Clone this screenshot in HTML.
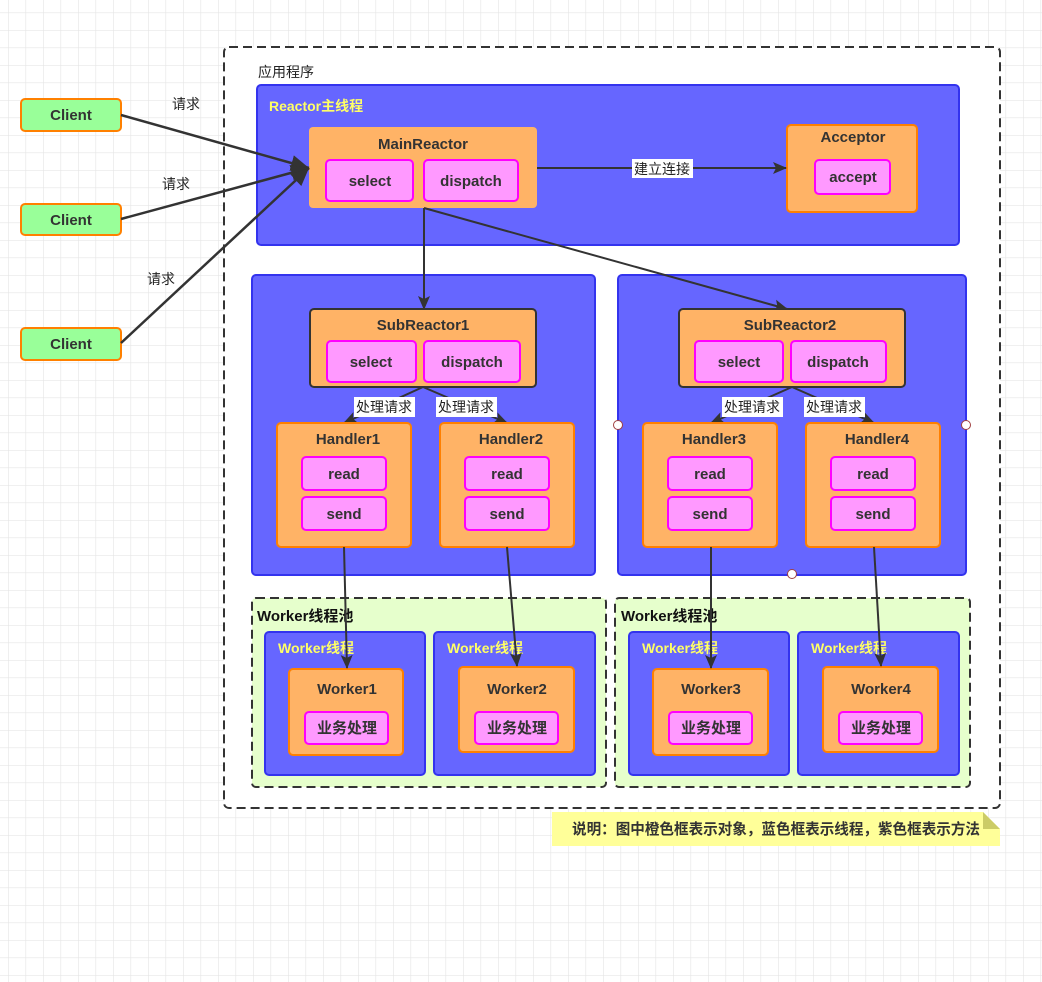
<!DOCTYPE html>
<html><head><meta charset="utf-8">
<style>
html,body{margin:0;padding:0;background:#fff;}
svg{display:block;}
text{font-family:"Liberation Sans","Noto Sans CJK SC",sans-serif;}
.b{font-weight:bold;font-size:15px;fill:#333;}
.c{font-size:14px;fill:#222;}
.y{font-weight:bold;font-size:14px;fill:#ffff66;}
</style></head><body>
<svg width="1042" height="982" viewBox="0 0 1042 982" xmlns="http://www.w3.org/2000/svg">
<defs>
<pattern id="g" width="17.5" height="17.5" patternUnits="userSpaceOnUse" x="8" y="-5">
<path d="M0 0H17.5M0 0V17.5" stroke="#e6e6e6" stroke-width="1.3" fill="none"/>
</pattern>
<marker id="a" markerWidth="14" markerHeight="14" refX="13" refY="7" orient="auto" markerUnits="userSpaceOnUse"><path d="M0 1L14 7L0 13L3 7Z" fill="#333"/></marker>
<marker id="A" markerWidth="20" markerHeight="20" refX="18" refY="10" orient="auto" markerUnits="userSpaceOnUse"><path d="M0 2L18 10L0 18Z" fill="#333"/></marker>
</defs>
<rect width="1042" height="982" fill="url(#g)"/>
<rect x="224" y="47" width="776" height="761" rx="5" fill="#fff" stroke="#333" stroke-width="2" stroke-dasharray="9,5"/>
<text x="258" y="77" class="c">应用程序</text>

<rect x="257" y="85" width="702" height="160" rx="4" fill="#6666ff" stroke="#3333ee" stroke-width="2"/>
<text x="269" y="111" class="y">Reactor主线程</text>
<rect x="309" y="127" width="228" height="81" rx="4" fill="#ffb366"/>
<text x="423" y="149" class="b" text-anchor="middle">MainReactor</text>
<rect x="326" y="160" width="87" height="41" rx="4" fill="#ff99ff" stroke="#ff00ff" stroke-width="2"/>
<text x="370" y="186" class="b" text-anchor="middle">select</text>
<rect x="424" y="160" width="94" height="41" rx="4" fill="#ff99ff" stroke="#ff00ff" stroke-width="2"/>
<text x="471" y="186" class="b" text-anchor="middle">dispatch</text>

<rect x="787" y="125" width="130" height="87" rx="4" fill="#ffb366" stroke="#ff8000" stroke-width="2"/>
<text x="853" y="142" class="b" text-anchor="middle">Acceptor</text>
<rect x="815" y="160" width="75" height="34" rx="4" fill="#ff99ff" stroke="#ff00ff" stroke-width="2"/>
<text x="853" y="182" class="b" text-anchor="middle">accept</text>

<line x1="537" y1="168" x2="786" y2="168" stroke="#333" stroke-width="2" marker-end="url(#a)"/>
<rect x="632" y="159" width="61" height="19" fill="#fff"/>
<text x="662" y="174" class="c" text-anchor="middle">建立连接</text>

<rect x="21" y="99" width="100" height="32" rx="4" fill="#99ff99" stroke="#ff8000" stroke-width="2"/>
<text x="71" y="120" class="b" text-anchor="middle">Client</text>
<rect x="21" y="204" width="100" height="31" rx="4" fill="#99ff99" stroke="#ff8000" stroke-width="2"/>
<text x="71" y="225" class="b" text-anchor="middle">Client</text>
<rect x="21" y="328" width="100" height="32" rx="4" fill="#99ff99" stroke="#ff8000" stroke-width="2"/>
<text x="71" y="349" class="b" text-anchor="middle">Client</text>
<line x1="121" y1="115" x2="309" y2="168" stroke="#333" stroke-width="2.5" marker-end="url(#A)"/>
<line x1="121" y1="219" x2="309" y2="168" stroke="#333" stroke-width="2.5" marker-end="url(#A)"/>
<line x1="121" y1="343" x2="309" y2="168" stroke="#333" stroke-width="2.5" marker-end="url(#A)"/>
<text x="186" y="109" class="c" text-anchor="middle">请求</text>
<text x="176" y="189" class="c" text-anchor="middle">请求</text>
<text x="161" y="284" class="c" text-anchor="middle">请求</text>

<rect x="252" y="275" width="343" height="300" rx="4" fill="#6666ff" stroke="#3333ee" stroke-width="2"/>
<rect x="618" y="275" width="348" height="300" rx="4" fill="#6666ff" stroke="#3333ee" stroke-width="2"/>

<line x1="424" y1="208" x2="424" y2="309" stroke="#333" stroke-width="2" marker-end="url(#a)"/>
<line x1="424" y1="208" x2="787" y2="309" stroke="#333" stroke-width="2" marker-end="url(#a)"/>

<rect x="310" y="309" width="226" height="78" rx="4" fill="#ffb366" stroke="#333" stroke-width="2"/>
<text x="423" y="330" class="b" text-anchor="middle">SubReactor1</text>
<rect x="327" y="341" width="89" height="41" rx="4" fill="#ff99ff" stroke="#ff00ff" stroke-width="2"/>
<text x="371" y="367" class="b" text-anchor="middle">select</text>
<rect x="424" y="341" width="96" height="41" rx="4" fill="#ff99ff" stroke="#ff00ff" stroke-width="2"/>
<text x="472" y="367" class="b" text-anchor="middle">dispatch</text>
<rect x="679" y="309" width="226" height="78" rx="4" fill="#ffb366" stroke="#333" stroke-width="2"/>
<text x="790" y="330" class="b" text-anchor="middle">SubReactor2</text>
<rect x="695" y="341" width="88" height="41" rx="4" fill="#ff99ff" stroke="#ff00ff" stroke-width="2"/>
<text x="739" y="367" class="b" text-anchor="middle">select</text>
<rect x="791" y="341" width="95" height="41" rx="4" fill="#ff99ff" stroke="#ff00ff" stroke-width="2"/>
<text x="838" y="367" class="b" text-anchor="middle">dispatch</text>

<g stroke="#333" stroke-width="2">
<line x1="423" y1="387" x2="344" y2="423" marker-end="url(#a)"/>
<line x1="423" y1="387" x2="507" y2="423" marker-end="url(#a)"/>
<line x1="792" y1="387" x2="711" y2="423" marker-end="url(#a)"/>
<line x1="792" y1="387" x2="874" y2="423" marker-end="url(#a)"/>
</g>
<rect x="354" y="397" width="61" height="20" fill="#fff"/><text x="384" y="412" class="c" text-anchor="middle">处理请求</text>
<rect x="436" y="397" width="61" height="20" fill="#fff"/><text x="466" y="412" class="c" text-anchor="middle">处理请求</text>
<rect x="722" y="397" width="61" height="20" fill="#fff"/><text x="752" y="412" class="c" text-anchor="middle">处理请求</text>
<rect x="804" y="397" width="61" height="20" fill="#fff"/><text x="834" y="412" class="c" text-anchor="middle">处理请求</text>

<rect x="277" y="423" width="134" height="124" rx="4" fill="#ffb366" stroke="#ff8000" stroke-width="2"/>
<text x="348" y="444" class="b" text-anchor="middle">Handler1</text>
<rect x="302" y="457" width="84" height="33" rx="4" fill="#ff99ff" stroke="#ff00ff" stroke-width="2"/><text x="344" y="479" class="b" text-anchor="middle">read</text>
<rect x="302" y="497" width="84" height="33" rx="4" fill="#ff99ff" stroke="#ff00ff" stroke-width="2"/><text x="344" y="519" class="b" text-anchor="middle">send</text>

<rect x="440" y="423" width="134" height="124" rx="4" fill="#ffb366" stroke="#ff8000" stroke-width="2"/>
<text x="511" y="444" class="b" text-anchor="middle">Handler2</text>
<rect x="465" y="457" width="84" height="33" rx="4" fill="#ff99ff" stroke="#ff00ff" stroke-width="2"/><text x="507" y="479" class="b" text-anchor="middle">read</text>
<rect x="465" y="497" width="84" height="33" rx="4" fill="#ff99ff" stroke="#ff00ff" stroke-width="2"/><text x="507" y="519" class="b" text-anchor="middle">send</text>

<rect x="643" y="423" width="134" height="124" rx="4" fill="#ffb366" stroke="#ff8000" stroke-width="2"/>
<text x="714" y="444" class="b" text-anchor="middle">Handler3</text>
<rect x="668" y="457" width="84" height="33" rx="4" fill="#ff99ff" stroke="#ff00ff" stroke-width="2"/><text x="710" y="479" class="b" text-anchor="middle">read</text>
<rect x="668" y="497" width="84" height="33" rx="4" fill="#ff99ff" stroke="#ff00ff" stroke-width="2"/><text x="710" y="519" class="b" text-anchor="middle">send</text>

<rect x="806" y="423" width="134" height="124" rx="4" fill="#ffb366" stroke="#ff8000" stroke-width="2"/>
<text x="877" y="444" class="b" text-anchor="middle">Handler4</text>
<rect x="831" y="457" width="84" height="33" rx="4" fill="#ff99ff" stroke="#ff00ff" stroke-width="2"/><text x="873" y="479" class="b" text-anchor="middle">read</text>
<rect x="831" y="497" width="84" height="33" rx="4" fill="#ff99ff" stroke="#ff00ff" stroke-width="2"/><text x="873" y="519" class="b" text-anchor="middle">send</text>

<circle cx="618" cy="425" r="4.5" fill="#fff" stroke="#a04040"/>
<circle cx="966" cy="425" r="4.5" fill="#fff" stroke="#a04040"/>
<circle cx="792" cy="574" r="4.5" fill="#fff" stroke="#a04040"/>

<rect x="252" y="598" width="354" height="189" rx="4" fill="#e6ffcc" stroke="#333" stroke-width="2" stroke-dasharray="9,5"/>
<text x="257" y="621" class="b" style="fill:#111">Worker线程池</text>
<rect x="615" y="598" width="355" height="189" rx="4" fill="#e6ffcc" stroke="#333" stroke-width="2" stroke-dasharray="9,5"/>
<text x="621" y="621" class="b" style="fill:#111">Worker线程池</text>

<rect x="265" y="632" width="160" height="143" rx="4" fill="#6666ff" stroke="#3333ee" stroke-width="2"/>
<text x="278" y="653" class="y">Worker线程</text>
<rect x="289" y="669" width="114" height="86" rx="4" fill="#ffb366" stroke="#ff8000" stroke-width="2"/>
<text x="347" y="694" class="b" text-anchor="middle">Worker1</text>
<rect x="305" y="712" width="83" height="32" rx="4" fill="#ff99ff" stroke="#ff00ff" stroke-width="2"/><text x="347" y="733" class="b" text-anchor="middle">业务处理</text>

<rect x="434" y="632" width="161" height="143" rx="4" fill="#6666ff" stroke="#3333ee" stroke-width="2"/>
<text x="447" y="653" class="y">Worker线程</text>
<rect x="459" y="667" width="115" height="85" rx="4" fill="#ffb366" stroke="#ff8000" stroke-width="2"/>
<text x="517" y="694" class="b" text-anchor="middle">Worker2</text>
<rect x="475" y="712" width="83" height="32" rx="4" fill="#ff99ff" stroke="#ff00ff" stroke-width="2"/><text x="517" y="733" class="b" text-anchor="middle">业务处理</text>

<rect x="629" y="632" width="160" height="143" rx="4" fill="#6666ff" stroke="#3333ee" stroke-width="2"/>
<text x="642" y="653" class="y">Worker线程</text>
<rect x="653" y="669" width="115" height="86" rx="4" fill="#ffb366" stroke="#ff8000" stroke-width="2"/>
<text x="711" y="694" class="b" text-anchor="middle">Worker3</text>
<rect x="669" y="712" width="83" height="32" rx="4" fill="#ff99ff" stroke="#ff00ff" stroke-width="2"/><text x="711" y="733" class="b" text-anchor="middle">业务处理</text>

<rect x="798" y="632" width="161" height="143" rx="4" fill="#6666ff" stroke="#3333ee" stroke-width="2"/>
<text x="811" y="653" class="y">Worker线程</text>
<rect x="823" y="667" width="115" height="85" rx="4" fill="#ffb366" stroke="#ff8000" stroke-width="2"/>
<text x="881" y="694" class="b" text-anchor="middle">Worker4</text>
<rect x="839" y="712" width="83" height="32" rx="4" fill="#ff99ff" stroke="#ff00ff" stroke-width="2"/><text x="881" y="733" class="b" text-anchor="middle">业务处理</text>

<g stroke="#333" stroke-width="2">
<line x1="344" y1="547" x2="347" y2="668" marker-end="url(#a)"/>
<line x1="507" y1="547" x2="517" y2="666" marker-end="url(#a)"/>
<line x1="711" y1="547" x2="711" y2="668" marker-end="url(#a)"/>
<line x1="874" y1="547" x2="881" y2="666" marker-end="url(#a)"/>
</g>

<path d="M552 812H983L1000 829V846H552Z" fill="#ffff99"/>
<path d="M983 812V829H1000Z" fill="#cccc66"/>
<text x="572" y="834" class="c" textLength="408" lengthAdjust="spacingAndGlyphs" style="font-weight:bold;font-size:15px;fill:#333">说明：图中橙色框表示对象，蓝色框表示线程，紫色框表示方法</text>
</svg>
</body></html>
